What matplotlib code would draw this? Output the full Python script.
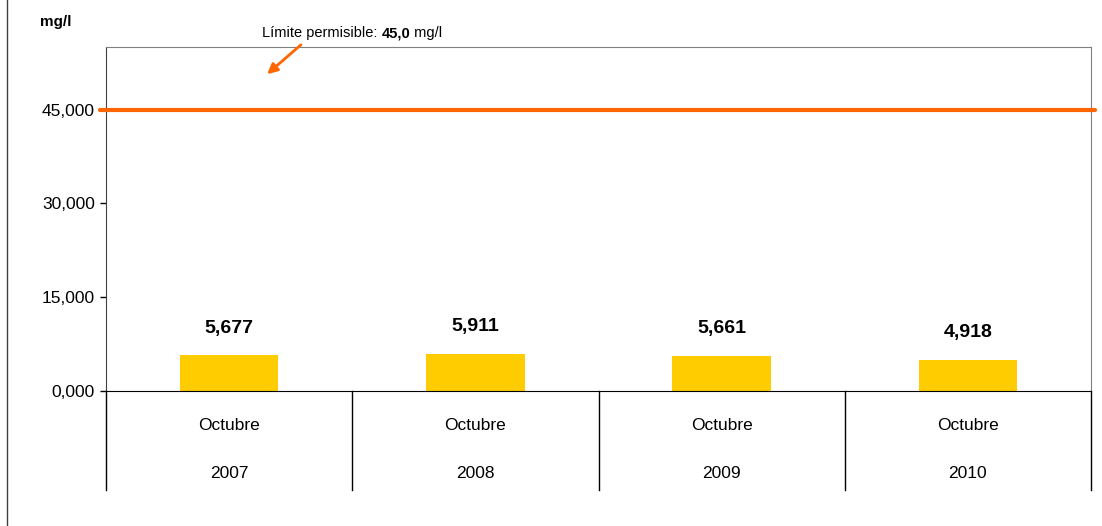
import matplotlib
matplotlib.use("Agg")
import matplotlib.pyplot as plt
from matplotlib.lines import Line2D

plt.rcParams['font.family'] = ['Liberation Sans Narrow', 'Liberation Sans', 'DejaVu Sans']

# datos
meses = ["Octubre", "Octubre", "Octubre", "Octubre"]
anios = ["2007", "2008", "2009", "2010"]
valores = [5.677, 5.911, 5.661, 4.918]
etiquetas = ["5,677", "5,911", "5,661", "4,918"]
limite = 45.0
yticks = [0, 15, 30, 45]
ytick_labels = ["0,000", "15,000", "30,000", "45,000"]

W, H = 1102, 526
fig = plt.figure(figsize=(W / 100, H / 100), dpi=100)
ax = fig.add_axes([106 / W, 1 - 391 / H, (1091 - 106) / W, (391 - 47) / H])

x = list(range(len(valores)))
ax.bar(x, valores, width=0.4, color="#FFCC00", zorder=2)
ax.set_xlim(-0.5, len(valores) - 0.5)
ax.set_ylim(0, 55)

# linea del limite
ax.plot([-0.525, len(valores) - 0.485], [limite, limite], color="#FF6600", lw=3,
        solid_capstyle="round", clip_on=False, zorder=3)

for xi, v, lab in zip(x, valores, etiquetas):
    ax.text(xi, v + 3.0, lab, ha="center", va="bottom", fontsize=14, fontweight="bold")

ax.set_yticks(yticks)
ax.set_yticklabels(ytick_labels, fontsize=12.5)
ax.tick_params(axis="y", length=4, width=1, pad=4)
ax.set_xticks([])
for s in ["top", "right"]:
    ax.spines[s].set_color("#808080")
ax.spines["left"].set_color("#404040")
ax.spines["bottom"].set_color("black")

# tabla de categorias bajo el eje
for i in range(len(valores) + 1):
    xp = (106 + i * (1091 - 106) / len(valores)) / W
    fig.add_artist(Line2D([xp, xp], [1 - 391 / H, 1 - 490 / H], color="black", lw=1))
for xi, m, a in zip(x, meses, anios):
    xp = (106 + (xi + 0.5) * (1091 - 106) / len(valores)) / W
    fig.text(xp, 1 - 426 / H, m, ha="center", va="center", fontsize=12.5)
    fig.text(xp, 1 - 473 / H, a, ha="center", va="center", fontsize=12.5)

# borde izquierdo de la figura
fig.add_artist(Line2D([7 / W, 7 / W], [0, 1], color="#404040", lw=1))

fig.text(40 / W, 1 - 22 / H, "mg/l", ha="left", va="center", fontsize=11, fontweight="bold")

# texto del limite en partes (negrita en el valor)
renderer = fig.canvas.get_renderer()
xt = 262 / W
for txt, fw in [("Límite permisible: ", "normal"), ("45,0", "bold"), (" mg/l", "normal")]:
    t = fig.text(xt, 1 - 33 / H, txt, ha="left", va="center", fontsize=10.5, fontweight=fw)
    bb = t.get_window_extent(renderer)
    xt = bb.x1 / W
ax.annotate("", xy=(265 / W, 1 - 76 / H), xycoords="figure fraction",
            xytext=(303 / W, 1 - 43 / H), textcoords="figure fraction",
            arrowprops=dict(arrowstyle="-|>", color="#FF6600", lw=2, mutation_scale=15))

fig.savefig("out.png", dpi=100)
